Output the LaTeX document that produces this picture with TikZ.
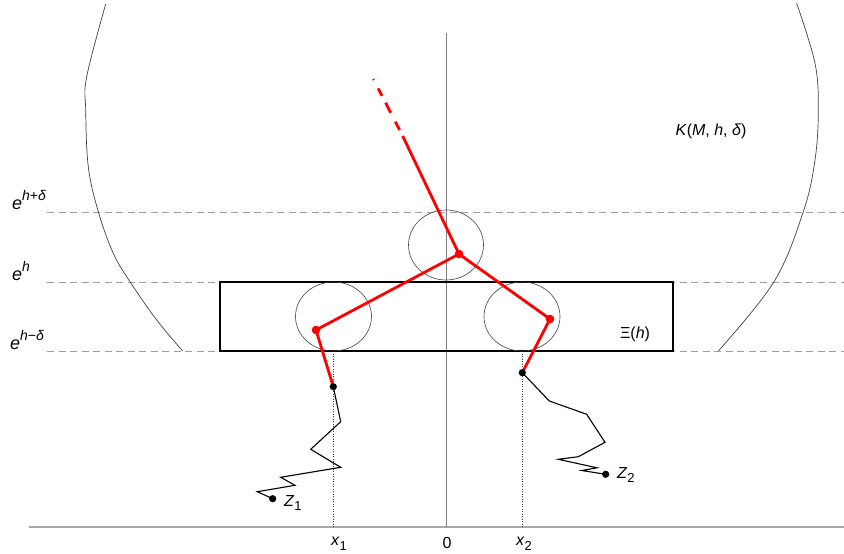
\documentclass[tikz,border=0pt]{standalone}
\usepackage{fontspec}
\setmainfont{Liberation Sans}
\colorlet{levels}{gray!75}
\colorlet{axes}{gray}
\colorlet{boundary}{black!75}
\colorlet{chain}{red}
\newcommand{\upidx}[1]{\raisebox{0.5em}{\fontsize{14}{14}\selectfont #1}}
\newcommand{\lowidx}[1]{\raisebox{-0.3em}{\fontsize{13}{13}\selectfont #1}}

\begin{document}
\begin{tikzpicture}[x=1pt,y=-1pt,
        lbl/.style={inner sep=0pt,font=\fontsize{16}{19}\selectfont},
        biglbl/.style={inner sep=0pt,font=\fontsize{18}{21}\selectfont},
        redline/.style={chain,line width=2.8pt},
        walk/.style={black,line width=1.1pt},
        ball/.style={boundary,line width=0.6pt}]
        \useasboundingbox (0,0) rectangle (844,554);
        \foreach \yy in {212,282,351}
        {
            \draw[levels,line width=1pt,dash pattern=on 7pt off 4.5pt] (47,\yy)--(844,\yy);
        }
        \draw[axes!70,line width=2pt](29,527)--(844,527);
        \draw[axes,line width=1pt](446,33)--(446,527);
        \draw[boundary,line width=0.7pt] plot[smooth,tension=0.6] coordinates
            {(105.7,4) (86.7,76.7) (85.7,110) (88.3,166.7) (98.3,211.7) (113.3,253.3) (130,281.7) (156.7,320) (182.7,351)};
        \draw[boundary,line width=0.7pt] plot[smooth,tension=0.6] coordinates
            {(796.7,3.3) (815,63.3) (818.3,110) (815,160) (803.3,211.7) (774,281.7) (718.3,351)};
        \draw[line width=2.6pt] (220,282) rectangle (673,351);
        \draw[ball] (446,245) ellipse [x radius=37.5pt, y radius=35pt];
        \draw[ball] (333.5,316.5) ellipse [x radius=38pt, y radius=34.5pt];
        \draw[ball] (522,316.5) ellipse [x radius=38pt, y radius=34.5pt];
        \coordinate (tail) at (373.3,79);
        \coordinate (fade) at (402.7,136);
        \coordinate (top) at (459,254);
        \coordinate (left) at (316,330);
        \coordinate (right) at (550,319);
        \coordinate (x1) at (333.3,386.7);
        \coordinate (x2) at (522.3,372.7);
        \coordinate (z1) at (272.7,498.7);
        \coordinate (z2) at (605.7,474.3);
        \draw[black!80,dotted,line width=0.5pt] (333.3,351)--(333.3,527);
        \draw[black!80,dotted,line width=0.5pt] (522.3,351)--(522.3,527);
        \draw[walk] (x1)--(340.7,421.7)--(310.7,449.3)--(340.7,467.3)--(280.7,477.3)--(295,485.3)--(257.3,491.7)--(z1);
        \draw[walk] (x2)--(549.3,401)--(586.7,414.3)--(605,442.3)--(578.3,456.7)--(558.3,459.3)--(597,467.8)--(581.7,470.5)--(z2);
        \draw[redline,dash pattern=on 1pt off 9.5pt on 8.5pt off 7.7pt on 11.3pt off 10pt on 9.4pt off 10pt] (tail)--(fade);
        \draw[redline] (fade)--(top)--(left)--(x1);
        \draw[redline] (top)--(right)--(x2);
        \foreach \p in {top,left,right}
        {
            \fill[chain] (\p) circle (4.3pt);
        }
        \foreach \p in {x1,x2,z1,z2}
        {
            \fill[black] (\p) circle (3.6pt);
        }
        \node[biglbl,anchor=base west] (lvlhigh) at (12,209) {\textit{e}\upidx{\textit{h}+\textit{δ}}};
        \node[biglbl,anchor=base west] (lvlmid) at (12,280) {\textit{e}\upidx{\textit{h}}};
        \node[biglbl,anchor=base west] (lvllow) at (10,349) {\textit{e}\upidx{\textit{h}−\textit{δ}}};
        \node[lbl] (kset) at (711,131) {\textit{K}(\textit{M}, \textit{h}, \textit{δ})};
        \node[lbl] (xiset) at (635,334) {Ξ(\textit{h})};
        \node[lbl,anchor=west] (z1lbl) at (284,503) {\textit{Z}\lowidx{1}};
        \node[lbl,anchor=west] (z2lbl) at (617,475) {\textit{Z}\lowidx{2}};
        \node[lbl] (x1lbl) at (339,544) {\textit{x}\lowidx{1}};
        \node[lbl] (orig) at (447,543) {0};
        \node[lbl] (x2lbl) at (524,544) {\textit{x}\lowidx{2}};
\end{tikzpicture}
\end{document}
